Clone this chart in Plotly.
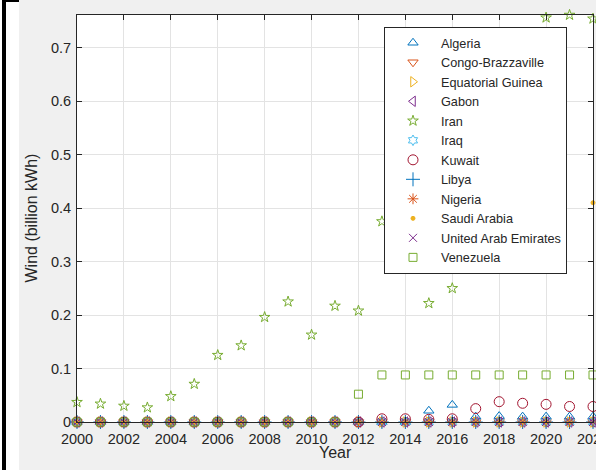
import plotly.graph_objects as go

years = list(range(2000, 2023))

algeria = [0]*15 + [0.021, 0.032, 0.010, 0.011, 0.010, 0.010, 0.010, 0.010]
congo = [0]*23
eq_guinea = [0]*23
gabon = [0]*23
iran = [0.037, 0.034, 0.030, 0.027, 0.048, 0.071, 0.125, 0.143, 0.196, 0.225,
        0.163, 0.217, 0.208, 0.375, 0.45, 0.222, 0.250, 0.40, 0.48, 0.55,
        0.756, 0.761, 0.754]
iraq = [0]*23
kuwait = [0]*13 + [0.006, 0.006, 0.005, 0.006, 0.025, 0.038, 0.035, 0.033, 0.029, 0.029]
libya = [0]*23
nigeria = [0]*23
saudi = [0]*22 + [0.41]
uae = [0]*23
venezuela = [0]*12 + [0.052] + [0.088]*10

names = ["Algeria", "Congo-Brazzaville", "Equatorial Guinea", "Gabon", "Iran", "Iraq",
         "Kuwait", "Libya", "Nigeria", "Saudi Arabia", "United Arab Emirates", "Venezuela"]
series = [algeria, congo, eq_guinea, gabon, iran, iraq, kuwait, libya, nigeria, saudi, uae, venezuela]
colors = ["#0072BD", "#D95319", "#EDB120", "#7E2F8E", "#77AC30", "#4DBEEE",
          "#A2142F", "#0072BD", "#D95319", "#EDB120", "#7E2F8E", "#77AC30"]
symbols = ["triangle-up-open", "triangle-down-open", "triangle-right-open", "triangle-left-open",
           "star-open", "hexagram-open", "circle-open", "cross-thin-open", "asterisk-open",
           "circle", "x-thin-open", "square-open"]
sizes = [9, 9, 9, 9, 8, 8, 10, 10, 9, 4, 8, 8]

yticks = [0, 0.1, 0.2, 0.3, 0.4, 0.5, 0.6, 0.7]
yticktext = ["0", "0.1", "0.2", "0.3", "0.4", "0.5", "0.6", "0.7"]
xticks = list(range(2000, 2023, 2))

FONT = "Liberation Sans, Arial, Helvetica, sans-serif"
TXT = "#262626"

fig = go.Figure()
for n, s, c, sym, sz in zip(names, series, colors, symbols, sizes):
    fig.add_trace(go.Scatter(
        x=years, y=s, name=n, mode="markers", cliponaxis=False,
        marker=dict(symbol=sym, size=sz, color=c, line=dict(color=c, width=1)),
    ))

L, R, T, B = 77, 3, 15, 48
W, H = 596, 470
pw, ph = W - L - R, H - T - B

def px_x(p):
    return (p - L) / pw

def px_y(p):
    return (H - B - p) / ph

axis_common = dict(
    showline=True, linecolor=TXT, linewidth=1, mirror="ticks",
    ticks="inside", ticklen=5, tickcolor=TXT, tickwidth=1,
    showgrid=True, gridcolor="#e3e3e3", gridwidth=1, zeroline=False,
    tickfont=dict(family=FONT, size=14.5, color=TXT), automargin=False,
    ticklabeloverflow="allow",
)

fig.update_layout(
    width=W, height=H,
    margin=dict(l=L, r=R, t=T, b=B, pad=0),
    paper_bgcolor="#f0f0f0", plot_bgcolor="white",
    template="none",
    xaxis=dict(range=[2000, 2022], tickvals=xticks, ticktext=[str(v) for v in xticks],
               ticklabelstandoff=4, **axis_common),
    yaxis=dict(range=[0, 0.761], tickvals=yticks, ticktext=yticktext,
               ticklabelstandoff=2, **axis_common),
    showlegend=True,
    legend=dict(x=px_x(384), y=px_y(27), xanchor="left", yanchor="top",
                bgcolor="white", bordercolor=TXT, borderwidth=1,
                font=dict(family=FONT, size=12.7, color=TXT), itemwidth=46,
                entrywidth=134, tracegroupgap=0),
    annotations=[
        dict(text="Year", xref="paper", yref="paper", x=0.5, y=px_y(452),
             xanchor="center", yanchor="middle", showarrow=False,
             font=dict(family=FONT, size=16, color=TXT)),
        dict(text="Wind (billion kWh)", xref="paper", yref="paper", x=px_x(31), y=0.5,
             xanchor="center", yanchor="middle", showarrow=False, textangle=-90,
             font=dict(family=FONT, size=16, color=TXT)),
    ],
    shapes=[
        dict(type="rect", xref="paper", yref="paper", x0=px_x(0), x1=px_x(19),
             y0=px_y(H), y1=px_y(0), fillcolor="white", line=dict(width=0), layer="below"),
        dict(type="rect", xref="paper", yref="paper", x0=px_x(2), x1=px_x(6),
             y0=px_y(H), y1=px_y(0), fillcolor="black", line=dict(width=0), layer="below"),
        dict(type="rect", xref="paper", yref="paper", x0=px_x(2), x1=px_x(19),
             y0=px_y(2), y1=px_y(0), fillcolor="black", line=dict(width=0), layer="below"),
    ],
)

fig.write_html("out.html", config={"displayModeBar": False},
               post_script="document.body.style.margin='0';document.body.style.overflow='hidden';")
